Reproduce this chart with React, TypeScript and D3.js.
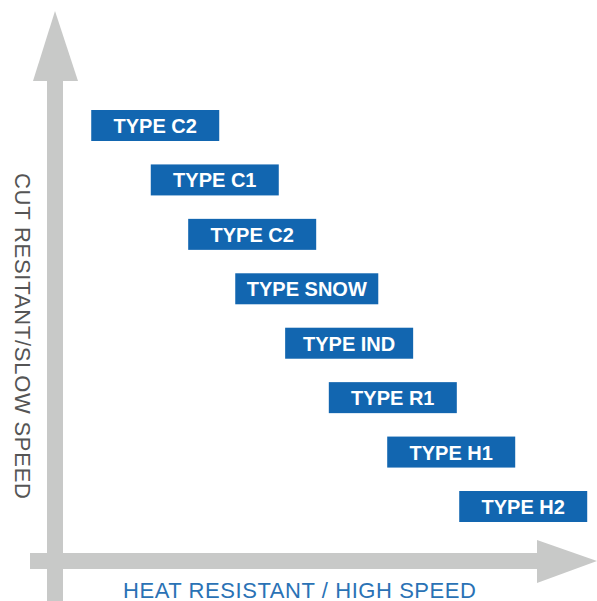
import { useEffect, useRef } from 'react';
import * as d3 from 'd3';

// tool types, top to bottom
const categories = ['TYPE C2', 'TYPE C1', 'TYPE C2', 'TYPE SNOW', 'TYPE IND', 'TYPE R1', 'TYPE H1', 'TYPE H2'];
// position along the heat resistant / high speed axis (0-100)
const heatValues = [10.8, 21.3, 27.9, 36.2, 45.0, 52.7, 63.0, 75.7];
// rank along the cut resistant / slow speed axis
const cutValues = [8, 7, 6, 5, 4, 3, 2, 1];

const xLabel = 'HEAT RESISTANT / HIGH SPEED';
const yLabel = 'CUT RESITANT/SLOW SPEED';

const App = (): JSX.Element => {
  const svgRef = useRef<SVGSVGElement>(null);

  useEffect(() => {
    const width = 597;
    const height = 601;
    const gray = '#c8c9c8';
    const blue = '#1266b0';

    const svg = d3.select(svgRef.current);
    svg.selectAll('*').remove();

    const x = d3.scaleLinear().domain([0, 100]).range([30, 597]);
    const y = d3.scaleLinear().domain([1, 8]).range([491, 110]);

    // vertical arrow
    const vx = 55;
    svg.append('rect')
      .attr('x', vx - 8).attr('y', 80)
      .attr('width', 16).attr('height', height - 80)
      .attr('fill', gray);
    svg.append('path')
      .attr('d', `M${vx},11L${vx + 23},81L${vx - 22},81Z`)
      .attr('fill', gray);

    // horizontal arrow
    const hy = 561;
    svg.append('rect')
      .attr('x', x(0)).attr('y', hy - 8)
      .attr('width', 538 - x(0)).attr('height', 16)
      .attr('fill', gray);
    svg.append('path')
      .attr('d', `M537,${hy - 21}L${width},${hy}L537,${hy + 22}Z`)
      .attr('fill', gray);

    // boxes
    const g = svg.selectAll('g.box')
      .data(categories)
      .enter()
      .append('g')
      .attr('class', 'box')
      .attr('transform', (_d, i) => `translate(${x(heatValues[i])},${y(cutValues[i])})`);

    const rects = g.append('rect')
      .attr('height', 31)
      .attr('fill', blue);

    const texts = g.append('text')
      .attr('y', 23)
      .attr('text-anchor', 'middle')
      .attr('font-family', '"Liberation Sans", Arial, sans-serif')
      .attr('font-weight', 'bold')
      .attr('font-size', 20)
      .attr('fill', 'white')
      .text(d => d);

    texts.each(function (_d, i) {
      const len = (this as SVGTextElement).getComputedTextLength();
      const w = Math.max(128, len + 23);
      d3.select(rects.nodes()[i]).attr('width', w);
      d3.select(this).attr('x', w / 2);
    });

    // axis labels
    svg.append('text')
      .attr('x', 123)
      .attr('y', 598)
      .attr('font-family', '"Liberation Sans", Arial, sans-serif')
      .attr('font-size', 22)
      .attr('fill', '#2a72b5')
      .attr('textLength', 353)
      .attr('lengthAdjust', 'spacing')
      .text(xLabel);

    svg.append('text')
      .attr('transform', 'translate(15,173) rotate(90)')
      .attr('font-family', '"Liberation Sans", Arial, sans-serif')
      .attr('font-size', 22)
      .attr('fill', '#555555')
      .attr('textLength', 326)
      .attr('lengthAdjust', 'spacing')
      .text(yLabel);
  }, []);

  return (
    <svg
      ref={svgRef}
      width={597}
      height={601}
      style={{ position: 'absolute', left: 0, top: 0, background: 'white' }}
    />
  );
};

export default App;
